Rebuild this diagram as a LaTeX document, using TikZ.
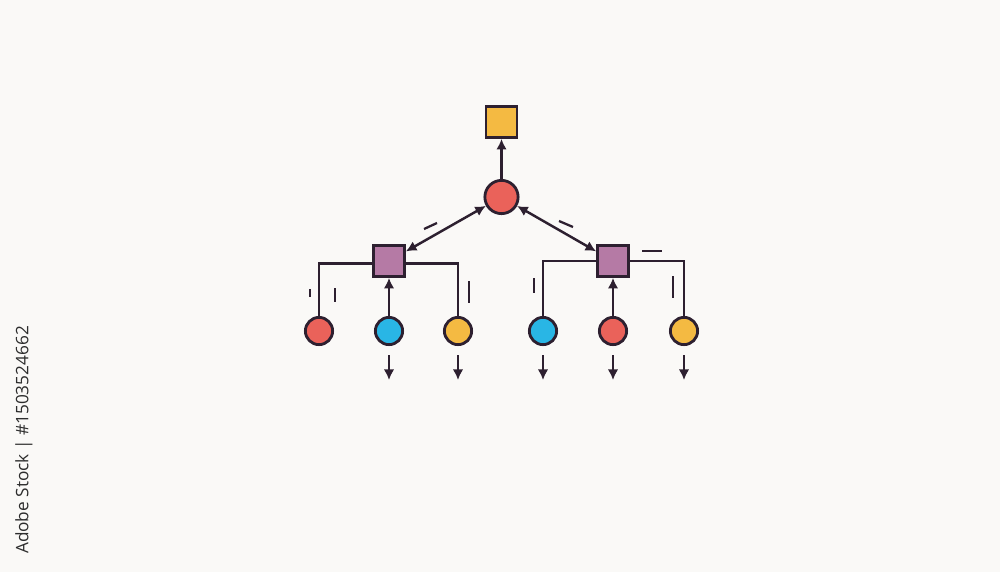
\documentclass[tikz,border=0pt]{standalone}
\usepackage{fontspec}
\setsansfont{Open Sans}
\usetikzlibrary{arrows.meta}
\definecolor{paper}{RGB}{250,249,247}
\definecolor{ink}{RGB}{45,32,48}
\definecolor{gold}{RGB}{244,186,66}
\definecolor{coral}{RGB}{234,98,90}
\definecolor{mauve}{RGB}{181,122,165}
\definecolor{sky}{RGB}{41,182,229}
\definecolor{stampgray}{RGB}{45,45,45}
\begin{document}
\begin{tikzpicture}[x=0.02cm,y=-0.02cm,>={Latex[length=6pt,width=6pt]},
  box/.style={draw=ink,line width=1.6pt,minimum size=0.62cm,inner sep=0pt},
  dot/.style={circle,draw=ink,line width=1.6pt,minimum size=0.545cm,inner sep=0pt},
  link/.style={draw=ink,line width=1.4pt},
  tick/.style={ink,line width=1.3pt}]
  \fill[paper] (0,0) rectangle (1000,572);
  \useasboundingbox (0,0) rectangle (1000,572);

  % top of the tree
  \node[box,fill=gold] (top) at (501.5,122) {};
  \node[dot,fill=coral,minimum size=0.665cm] (hub) at (501.5,197) {};
  \node[box,fill=mauve] (left) at (389,261) {};
  \node[box,fill=mauve] (right) at (613,261) {};

  % leaves
  \node[dot,fill=coral] (l1) at (319,331) {};
  \node[dot,fill=sky]   (l2) at (389,331) {};
  \node[dot,fill=gold]  (l3) at (458,331) {};
  \node[dot,fill=sky]   (r1) at (543,331) {};
  \node[dot,fill=coral] (r2) at (613,331) {};
  \node[dot,fill=gold]  (r3) at (684,331) {};

  \draw[link,->] (hub) -- (top);
  \draw[link,<->] (hub) -- (left);
  \draw[link,<->] (hub) -- (right);

  \draw[link] ([yshift=-1.5pt]left.west) -| (l1);
  \draw[link] ([yshift=-1.5pt]left.east) -| (l3);
  \draw[link,->] (l2) -- (left);
  \draw[link] (right.west) -| (r1);
  \draw[link] (right.east) -| (r3);
  \draw[link,->] (r2) -- (right);

  % outputs
  \foreach \n/\x in {l2/389,l3/458,r1/543,r2/613,r3/684} {
    \coordinate (\n-a) at (\x,355);
    \coordinate (\n-b) at (\x,380);
    \draw[link,->] (\n-a) -- (\n-b);
  }

  % little strokes
  \draw[tick] (310,289) -- (310,297);
  \draw[tick] (335,288) -- (335,302);
  \draw[tick] (469,281) -- (469,303);
  \draw[tick] (534,278) -- (534,293);
  \draw[tick] (673,276) -- (673,298);
  \draw[tick] (642,251) -- (662,251);
  \draw[tick] (424,229) -- (437,223);
  \draw[tick] (559,221) -- (573,227);

  \node[rotate=90,text=stampgray,font=\sffamily\fontsize{9.8}{12}\selectfont,inner sep=0pt] (stamp) at (24,440) {Adobe Stock | \#1503524662};
\end{tikzpicture}
\end{document}
